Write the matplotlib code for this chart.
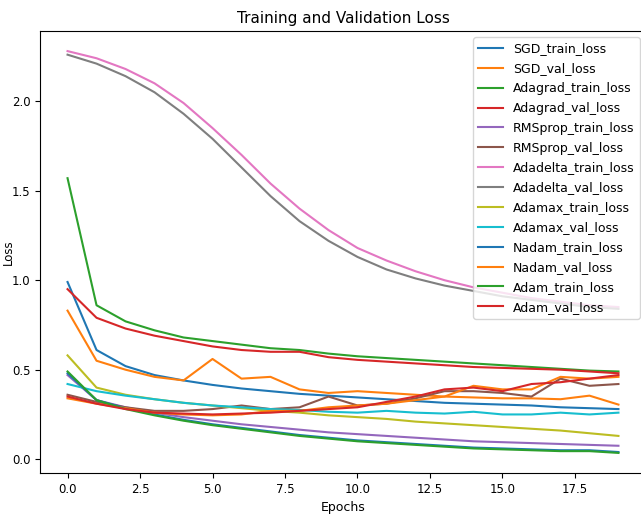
"""
Training / validation loss curves for several optimizers
"""

import numpy as np
import matplotlib
matplotlib.use('Agg')
import matplotlib.pyplot as plt

plt.rcParams['font.family'] = ['DejaVu Sans']

epochs = list(range(20))

sgd_train = [0.99, 0.61, 0.52, 0.47, 0.44, 0.415, 0.395, 0.38, 0.365, 0.355,
             0.345, 0.335, 0.325, 0.315, 0.31, 0.305, 0.30, 0.29, 0.285, 0.28]
sgd_val = [0.83, 0.55, 0.50, 0.46, 0.44, 0.56, 0.45, 0.46, 0.39, 0.37,
           0.38, 0.37, 0.36, 0.35, 0.345, 0.34, 0.34, 0.335, 0.355, 0.305]
adagrad_train = [1.57, 0.86, 0.77, 0.72, 0.68, 0.66, 0.64, 0.62, 0.61, 0.59,
                 0.575, 0.565, 0.555, 0.545, 0.535, 0.525, 0.515, 0.505, 0.495, 0.49]
adagrad_val = [0.95, 0.79, 0.73, 0.69, 0.66, 0.63, 0.61, 0.60, 0.60, 0.57,
               0.555, 0.545, 0.535, 0.525, 0.515, 0.51, 0.505, 0.50, 0.49, 0.48]
rmsprop_train = [0.47, 0.33, 0.29, 0.26, 0.235, 0.215, 0.195, 0.18, 0.165, 0.15,
                 0.14, 0.13, 0.12, 0.11, 0.10, 0.095, 0.09, 0.085, 0.08, 0.075]
rmsprop_val = [0.36, 0.32, 0.29, 0.27, 0.27, 0.28, 0.30, 0.28, 0.29, 0.35,
               0.30, 0.31, 0.34, 0.38, 0.38, 0.37, 0.35, 0.45, 0.41, 0.42]
adadelta_train = [2.28, 2.24, 2.18, 2.10, 1.99, 1.85, 1.70, 1.54, 1.40, 1.28,
                  1.18, 1.11, 1.05, 1.00, 0.96, 0.93, 0.90, 0.88, 0.86, 0.85]
adadelta_val = [2.26, 2.21, 2.14, 2.05, 1.93, 1.79, 1.63, 1.47, 1.33, 1.22,
                1.13, 1.06, 1.01, 0.97, 0.94, 0.91, 0.89, 0.87, 0.85, 0.84]
adamax_train = [0.58, 0.40, 0.36, 0.335, 0.315, 0.30, 0.285, 0.27, 0.26, 0.245,
                0.235, 0.225, 0.21, 0.20, 0.19, 0.18, 0.17, 0.16, 0.145, 0.13]
adamax_val = [0.42, 0.38, 0.355, 0.335, 0.315, 0.30, 0.29, 0.28, 0.275, 0.265,
              0.26, 0.27, 0.26, 0.255, 0.265, 0.25, 0.25, 0.26, 0.25, 0.26]
nadam_train = [0.48, 0.33, 0.285, 0.25, 0.22, 0.195, 0.175, 0.155, 0.135, 0.12,
               0.105, 0.095, 0.085, 0.075, 0.065, 0.06, 0.055, 0.05, 0.05, 0.04]
nadam_val = [0.34, 0.31, 0.285, 0.26, 0.25, 0.245, 0.25, 0.27, 0.27, 0.29,
             0.30, 0.31, 0.33, 0.35, 0.41, 0.39, 0.39, 0.46, 0.45, 0.46]
adam_train = [0.49, 0.33, 0.28, 0.245, 0.215, 0.19, 0.17, 0.15, 0.13, 0.115,
              0.10, 0.09, 0.08, 0.07, 0.06, 0.055, 0.05, 0.045, 0.045, 0.035]
adam_val = [0.35, 0.31, 0.28, 0.26, 0.255, 0.25, 0.255, 0.26, 0.27, 0.28,
            0.29, 0.32, 0.35, 0.39, 0.40, 0.38, 0.42, 0.43, 0.45, 0.47]

series = [
    ('SGD_train_loss', sgd_train), ('SGD_val_loss', sgd_val),
    ('Adagrad_train_loss', adagrad_train), ('Adagrad_val_loss', adagrad_val),
    ('RMSprop_train_loss', rmsprop_train), ('RMSprop_val_loss', rmsprop_val),
    ('Adadelta_train_loss', adadelta_train), ('Adadelta_val_loss', adadelta_val),
    ('Adamax_train_loss', adamax_train), ('Adamax_val_loss', adamax_val),
    ('Nadam_train_loss', nadam_train), ('Nadam_val_loss', nadam_val),
    ('Adam_train_loss', adam_train), ('Adam_val_loss', adam_val),
]

fig = plt.figure(figsize=(6.41, 5.16), dpi=100)
ax = fig.add_axes([0.0624, 0.0833, 0.9454, 0.8566])

for label, values in series:
    ax.plot(epochs, values, label=label, linewidth=1.5)

ax.set_title('Training and Validation Loss', fontsize=11)
ax.set_xlabel('Epochs', fontsize=9)
ax.set_ylabel('Loss', fontsize=8.5)
ax.yaxis.set_label_coords(-0.041, 0.5)
ax.tick_params(labelsize=8.5)
ax.legend(loc='upper right', fontsize=9, labelspacing=0.55)

plt.savefig('out.png', dpi=100)
